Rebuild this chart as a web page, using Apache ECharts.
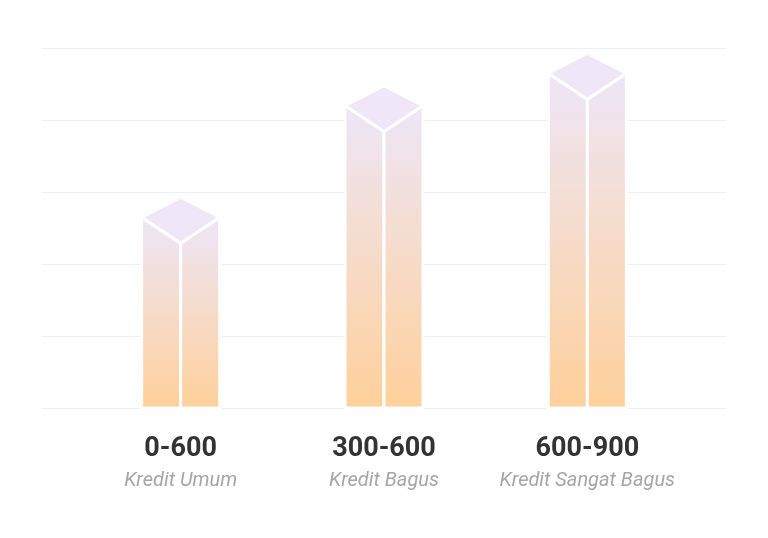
<!DOCTYPE html>
<html><head><meta charset="utf-8">
<script src="https://cdn.jsdelivr.net/npm/echarts@6/dist/echarts.min.js"></script>
<style>html,body{margin:0;background:#fff}#c{width:768px;height:538px}</style>
</head><body><div id="c"></div>
<script>
const ranges = ['0-600', '300-600', '600-900'];
const labels = ['Kredit Umum', 'Kredit Bagus', 'Kredit Sangat Bagus'];
const values = [53, 84, 93];

const chart = echarts.init(document.getElementById('c'));
const grad = new echarts.graphic.LinearGradient(0, 0, 0, 1, [
    { offset: 0, color: '#ede6f8' },
    { offset: 1, color: '#ffd09a' }
]);

function renderBox(params, api) {
    const p = api.coord([api.value(0), api.value(1)]);
    const base = api.coord([api.value(0), 0])[1];
    const hw = 39, up = 20, down = 26;
    const x = p[0], y = p[1];
    const style = { fill: grad, stroke: '#fff', lineWidth: 3, lineJoin: 'round' };
    return {
        type: 'group',
        children: [
            { type: 'polygon', shape: { points: [[x - hw, y], [x, y + down], [x, base], [x - hw, base]] }, style: style },
            { type: 'polygon', shape: { points: [[x, y + down], [x + hw, y], [x + hw, base], [x, base]] }, style: style },
            { type: 'polygon', shape: { points: [[x - hw, y], [x, y - up], [x + hw, y], [x, y + down]] },
              style: { fill: '#efe7f8', stroke: '#fff', lineWidth: 3, lineJoin: 'round' } }
        ]
    };
}

chart.setOption({
    animation: false,
    grid: [
        { left: 42, right: 42, top: 48, bottom: 130 },
        { left: 79, right: 79, top: 48, bottom: 130 }
    ],
    xAxis: [
        { gridIndex: 0, type: 'value', show: false, min: 0, max: 1 },
        {
            gridIndex: 1, type: 'category', data: ranges,
            axisLine: { show: false }, axisTick: { show: false },
            axisLabel: {
                margin: 22,
                formatter: (v, i) => '{a|' + v + '}\n{b|' + labels[i] + '}',
                rich: {
                    a: { fontFamily: 'Roboto', fontWeight: 'bold', fontSize: 27, color: '#333', lineHeight: 38 },
                    b: { fontFamily: 'Roboto', fontStyle: 'italic', fontSize: 20, color: '#a6a6a6', lineHeight: 26 }
                }
            }
        }
    ],
    yAxis: [
        { gridIndex: 0, type: 'value', min: 0, max: 100, interval: 20,
          axisLabel: { show: false }, axisLine: { show: false }, axisTick: { show: false },
          splitLine: { lineStyle: { color: '#efefef' } } },
        { gridIndex: 1, type: 'value', min: 0, max: 100, show: false, splitLine: { show: false } }
    ],
    series: [{
        type: 'custom', xAxisIndex: 1, yAxisIndex: 1,
        renderItem: renderBox,
        data: values.map((v, i) => [i, v])
    }]
});
</script></body></html>
